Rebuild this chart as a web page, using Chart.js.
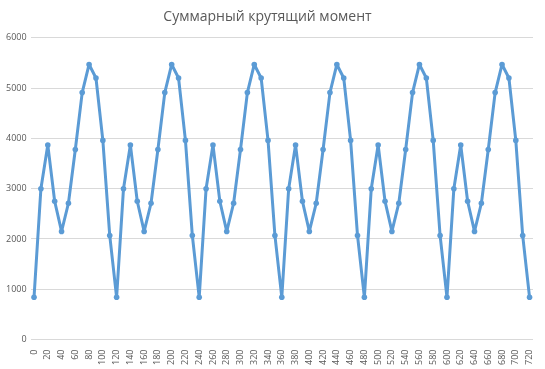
<!DOCTYPE html>
<html>
<head>
<meta charset="utf-8">
<script src="https://cdn.jsdelivr.net/npm/chart.js@4"></script>
<style>
  body { margin: 0; background: #fff; }
  #torque { display: block; }
</style>
</head>
<body>
<canvas id="torque" width="545" height="369"></canvas>
<script>
const chart_title = 'Суммарный крутящий момент';

const angle_labels = [
    0, 10, 20, 30, 40, 50, 60, 70, 80, 90, 100, 110,
    120, 130, 140, 150, 160, 170, 180, 190, 200, 210, 220, 230,
    240, 250, 260, 270, 280, 290, 300, 310, 320, 330, 340, 350,
    360, 370, 380, 390, 400, 410, 420, 430, 440, 450, 460, 470,
    480, 490, 500, 510, 520, 530, 540, 550, 560, 570, 580, 590,
    600, 610, 620, 630, 640, 650, 660, 670, 680, 690, 700, 710,
    720
];

const torque_values = [
    840, 3000, 3870, 2750, 2150, 2710, 3780, 4910, 5470, 5200, 3960, 2070,
    840, 3000, 3870, 2750, 2150, 2710, 3780, 4910, 5470, 5200, 3960, 2070,
    840, 3000, 3870, 2750, 2150, 2710, 3780, 4910, 5470, 5200, 3960, 2070,
    840, 3000, 3870, 2750, 2150, 2710, 3780, 4910, 5470, 5200, 3960, 2070,
    840, 3000, 3870, 2750, 2150, 2710, 3780, 4910, 5470, 5200, 3960, 2070,
    840, 3000, 3870, 2750, 2150, 2710, 3780, 4910, 5470, 5200, 3960, 2070,
    840
];

const font_family = "'Open Sans', 'Liberation Sans', sans-serif";
const text_color = '#595959';

new Chart(document.getElementById('torque'), {
    type: 'line',
    data: {
        labels: angle_labels,
        datasets: [{
            label: chart_title,
            data: torque_values,
            borderColor: '#5b9bd5',
            backgroundColor: '#5b9bd5',
            borderWidth: 3,
            borderJoinStyle: 'round',
            borderCapStyle: 'round',
            pointRadius: 2.8,
            pointBorderWidth: 0,
            tension: 0
        }]
    },
    options: {
        responsive: false,
        animation: false,
        layout: {
            padding: { left: 2, right: 12, top: 4, bottom: 2 }
        },
        plugins: {
            legend: { display: false },
            tooltip: { enabled: false },
            title: {
                display: true,
                text: chart_title,
                color: text_color,
                font: { family: font_family, size: 14, weight: 'normal' },
                padding: { top: 5, bottom: 12 }
            }
        },
        scales: {
            x: {
                offset: true,
                grid: { display: false },
                border: { display: false },
                ticks: {
                    autoSkip: false,
                    maxRotation: 90,
                    minRotation: 90,
                    padding: 2,
                    color: text_color,
                    font: { family: font_family, size: 9 },
                    callback: function (value, index) {
                        return index % 2 === 0 ? this.getLabelForValue(value) : '';
                    }
                }
            },
            y: {
                min: 0,
                max: 6000,
                grid: { color: '#d9d9d9', drawTicks: false },
                border: { display: false },
                ticks: {
                    stepSize: 1000,
                    padding: 4,
                    color: text_color,
                    font: { family: font_family, size: 9 },
                    callback: value => String(value)
                }
            }
        }
    }
});
</script>
</body>
</html>
